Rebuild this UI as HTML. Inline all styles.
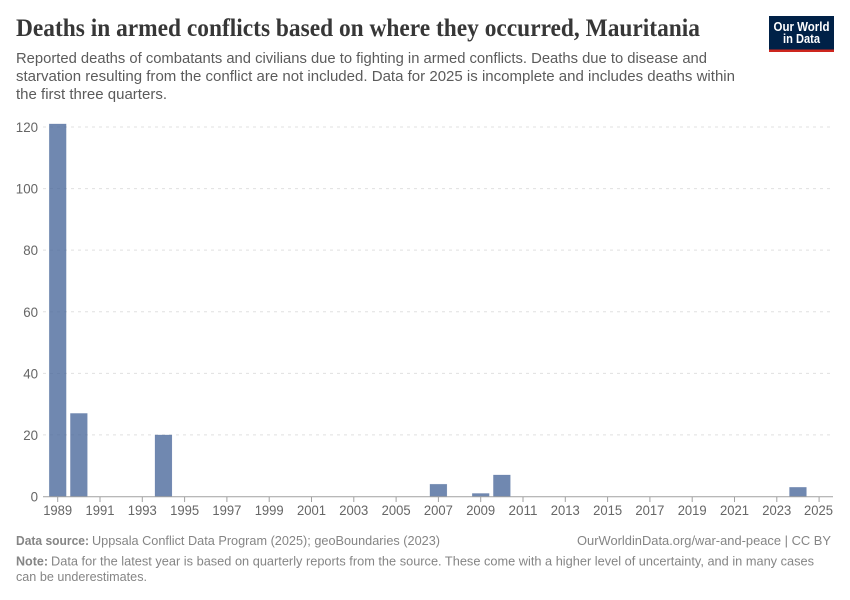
<!DOCTYPE html>
<html lang="en">
<head>
<meta charset="utf-8">
<title>Deaths in armed conflicts based on where they occurred, Mauritania</title>
<style>
html,body{margin:0;padding:0;background:#fff;width:850px;height:600px;overflow:hidden}
svg{display:block}
text{font-family:"Liberation Sans",sans-serif}
.title{font-family:"Liberation Serif",serif;font-weight:700;font-size:25px;fill:#373737}
.sub{font-size:15px;fill:#5b5b5b}
.foot{font-size:13px;fill:#858585}
.tick{font-size:14px;fill:#666}
</style>
</head>
<body>
<svg id="chart" width="850" height="600" viewBox="0 0 850 600" xmlns="http://www.w3.org/2000/svg">
  <text class="title" x="16" y="36" textLength="684" lengthAdjust="spacingAndGlyphs">Deaths in armed conflicts based on where they occurred, Mauritania</text>
  <text class="sub" x="16" y="63" textLength="691" lengthAdjust="spacingAndGlyphs">Reported deaths of combatants and civilians due to fighting in armed conflicts. Deaths due to disease and</text>
  <text class="sub" x="16" y="81" textLength="719" lengthAdjust="spacingAndGlyphs">starvation resulting from the conflict are not included. Data for 2025 is incomplete and includes deaths within</text>
  <text class="sub" x="16" y="99" textLength="151" lengthAdjust="spacingAndGlyphs">the first three quarters.</text>

  <g>
    <rect x="769" y="16" width="65" height="36" fill="#002147"/>
    <rect x="769" y="49.5" width="65" height="2.5" fill="#ce261e"/>
    <text x="801.5" y="31" text-anchor="middle" font-size="13" font-weight="700" fill="#fff" textLength="56" lengthAdjust="spacingAndGlyphs">Our World</text>
    <text x="801.5" y="43" text-anchor="middle" font-size="13" font-weight="700" fill="#fff" textLength="37" lengthAdjust="spacingAndGlyphs">in Data</text>
  </g>

  <g id="grid"></g>
  <g id="yticks"></g>
  <g id="bars"></g>
  <g id="xaxis"></g>

  <text class="foot" x="16" y="545" font-weight="700" textLength="73" lengthAdjust="spacingAndGlyphs">Data source:</text>
  <text class="foot" x="92" y="545" textLength="348" lengthAdjust="spacingAndGlyphs">Uppsala Conflict Data Program (2025); geoBoundaries (2023)</text>
  <text class="foot" x="577" y="545" textLength="254" lengthAdjust="spacingAndGlyphs">OurWorldinData.org/war-and-peace | CC BY</text>
  <text class="foot" x="16" y="565.5" font-weight="700" textLength="32" lengthAdjust="spacingAndGlyphs">Note:</text>
  <text class="foot" x="51" y="565.5" textLength="763" lengthAdjust="spacingAndGlyphs">Data for the latest year is based on quarterly reports from the source. These come with a higher level of uncertainty, and in many cases</text>
  <text class="foot" x="16" y="581" textLength="131" lengthAdjust="spacingAndGlyphs">can be underestimates.</text>
</svg>
<script>
const years = [1989,1990,1991,1992,1993,1994,1995,1996,1997,1998,1999,2000,2001,2002,2003,2004,2005,2006,2007,2008,2009,2010,2011,2012,2013,2014,2015,2016,2017,2018,2019,2020,2021,2022,2023,2024,2025];
const deaths = [121,27,0,0,0,20,0,0,0,0,0,0,0,0,0,0,0,0,4,0,1,7,0,0,0,0,0,0,0,0,0,0,0,0,0,3,0];
const yTickValues = [0,20,40,60,80,100,120];
const xTickYears = [1989,1991,1993,1995,1997,1999,2001,2003,2005,2007,2009,2011,2013,2015,2017,2019,2021,2023,2025];

const NS = 'http://www.w3.org/2000/svg';
const plotLeft = 43, plotRight = 833;
const x0 = 57.7, xStep = 21.15, y0 = 496.5, yUnit = 369.5 / 120, barWidth = 17;
function xScale(year) { return x0 + (year - years[0]) * xStep; }
function yScale(value) { return y0 - value * yUnit; }
function make(tag, attrs, parent, text) {
  const el = document.createElementNS(NS, tag);
  for (const k in attrs) el.setAttribute(k, attrs[k]);
  if (text !== undefined) el.textContent = text;
  parent.appendChild(el);
  return el;
}

const gridG = document.getElementById('grid');
const yG = document.getElementById('yticks');
yTickValues.forEach(function (v) {
  if (v !== 0) {
    const line = make('line', {x1: plotLeft, x2: plotRight, y1: yScale(v), y2: yScale(v), stroke: '#e0e0e0', 'stroke-dasharray': '3,4'}, gridG);
    
    
  }
  const label = make('text', {class: 'tick', x: 38, y: yScale(v) + 5, 'text-anchor': 'end', textLength: String(v).length * 7.4, lengthAdjust: 'spacingAndGlyphs'}, yG, String(v));
  
  
});

const barsG = document.getElementById('bars');
years.forEach(function (year, i) {
  const top = yScale(deaths[i]);
  const bar = make('rect', {x: xScale(year) - barWidth / 2, y: top, width: barWidth, height: y0 - top, fill: '#4c6a9c', 'fill-opacity': 0.8, stroke: '#4c6a9c', 'stroke-opacity': 0.2, 'stroke-width': 0.5}, barsG);
  
  
});

const xG = document.getElementById('xaxis');
const axisLine = make('line', {x1: plotLeft, x2: plotRight, y1: y0 + 0.3, y2: y0 + 0.3, stroke: '#a1a1a1', 'stroke-width': 1}, xG);


xTickYears.forEach(function (year) {
  const tick = make('line', {x1: xScale(year), x2: xScale(year), y1: y0 + 0.5, y2: y0 + 5.5, stroke: '#a1a1a1'}, xG);
  
  
  const label = make('text', {class: 'tick', x: Math.min(xScale(year), 818.5), y: 515, 'text-anchor': 'middle', textLength: 29, lengthAdjust: 'spacingAndGlyphs'}, xG, String(year));
  
  
});
</script>
</body>
</html>
